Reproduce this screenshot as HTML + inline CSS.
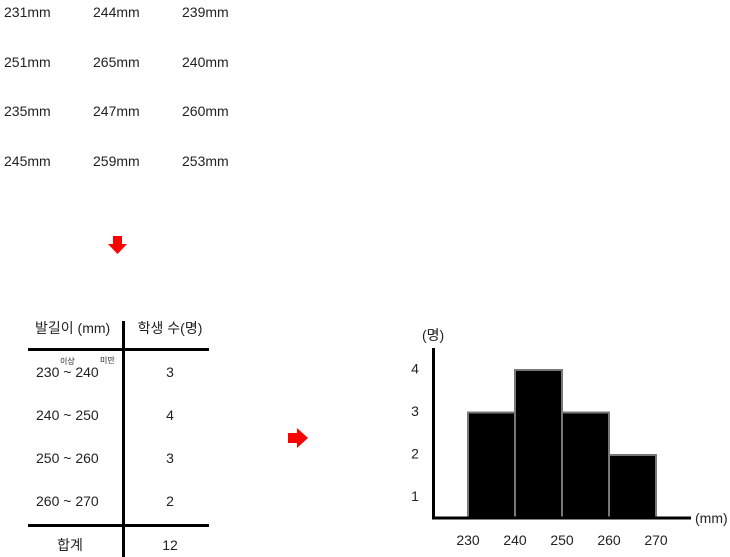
<!DOCTYPE html>
<html><head><meta charset="utf-8"><style>
body{margin:0;width:730px;height:557px;background:#fff;overflow:hidden;position:relative;font-family:"Liberation Sans","Noto Sans CJK KR",sans-serif;color:#222}
.t{position:absolute;font-size:14px;line-height:1;white-space:nowrap}
</style></head><body>
<div>
<div class="t" style="left:4px;top:5px">231mm</div><div class="t" style="left:93px;top:5px">244mm</div><div class="t" style="left:182px;top:5px">239mm</div>
<div class="t" style="left:4px;top:55px">251mm</div><div class="t" style="left:93px;top:55px">265mm</div><div class="t" style="left:182px;top:55px">240mm</div>
<div class="t" style="left:4px;top:104px">235mm</div><div class="t" style="left:93px;top:104px">247mm</div><div class="t" style="left:182px;top:104px">260mm</div>
<div class="t" style="left:4px;top:154px">245mm</div><div class="t" style="left:93px;top:154px">259mm</div><div class="t" style="left:182px;top:154px">253mm</div>
</div>
<svg width="730" height="557" style="position:absolute;left:0;top:0">
<polygon points="113,236 122,236 122,244 127,244 117.5,254 108,244 113,244" fill="#f00"/>
<polygon points="288,433 297,433 297,428 308,438 297,448 297,443 288,443" fill="#f00"/>
<g font-size="14" fill="#222">
<line x1="123.5" y1="321" x2="123.5" y2="557" stroke="#000" stroke-width="3"/>
<line x1="28" y1="349.5" x2="209" y2="349.5" stroke="#000" stroke-width="3"/>
<line x1="28" y1="525.5" x2="209" y2="525.5" stroke="#000" stroke-width="3"/>
<text x="35" y="333">발길이 (mm)</text><text x="170" y="333" text-anchor="middle">학생 수(명)</text>
<text x="60" y="364" font-size="8">이상</text><text x="100" y="363" font-size="8">미만</text>
<text x="36" y="377">230 ~ 240</text><text x="170" y="377" text-anchor="middle">3</text>
<text x="36" y="420">240 ~ 250</text><text x="170" y="420" text-anchor="middle">4</text>
<text x="36" y="463">250 ~ 260</text><text x="170" y="463" text-anchor="middle">3</text>
<text x="36" y="506">260 ~ 270</text><text x="170" y="506" text-anchor="middle">2</text>
<text x="70" y="550" text-anchor="middle">합계</text><text x="170" y="550" text-anchor="middle">12</text>
</g>
<g id="hist"></g>
</svg>
<script>
const edges=[230,240,250,260,270];
const counts=[3,4,3,2];
const yTicks=[1,2,3,4];
const NS="http://www.w3.org/2000/svg";
const g=document.getElementById('hist');
const xs=v=>468+(v-230)*4.7;
const ys=v=>540-42.5*v;
const base=518;
function mk(t,a,txt){const e=document.createElementNS(NS,t);for(const k in a)e.setAttribute(k,a[k]);if(txt!==undefined)e.textContent=txt;g.appendChild(e);return e;}
counts.forEach((c,i)=>{const x0=xs(edges[i]),x1=xs(edges[i+1]);
const r=mk('rect',{x:x0,y:ys(c),width:x1-x0,height:base-ys(c),fill:'#000',stroke:'#777','stroke-width':2});

});
const ya=mk('line',{x1:433.5,y1:348,x2:433.5,y2:519,stroke:'#000','stroke-width':3});


const xa=mk('line',{x1:432,y1:518,x2:691,y2:518,stroke:'#000','stroke-width':3});


yTicks.forEach(v=>{const t=mk('text',{x:415,y:ys(v)+0,'font-size':14,fill:'#222','text-anchor':'middle','dominant-baseline':'middle'},v);

});
edges.forEach(v=>{const t=mk('text',{x:xs(v),y:545,'font-size':14,fill:'#222','text-anchor':'middle'},v);

});
const yt=mk('text',{x:422,y:340,'font-size':14,fill:'#222'},'(명)');


const xt=mk('text',{x:695,y:523,'font-size':14,fill:'#222'},'(mm)');


</script>
</body></html>
